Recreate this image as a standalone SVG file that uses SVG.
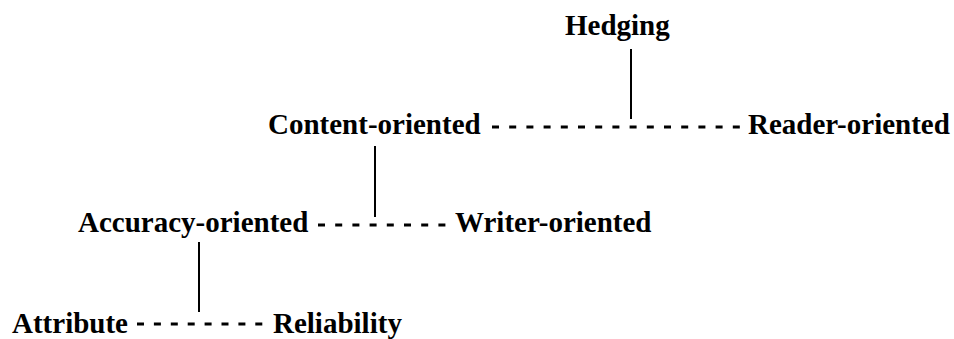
<svg xmlns="http://www.w3.org/2000/svg" width="954" height="339" viewBox="0 0 954 339">
<style>
  text { font-family: 'Liberation Serif', 'Times New Roman', Times, serif; font-weight: 700; font-size: 29px; fill: #000; }
  .solid { stroke: #000; stroke-width: 2; fill: none; }
  .dash { stroke: #000; stroke-width: 3; fill: none; stroke-dasharray: 7 10.2; }
</style>
<rect width="954" height="339" fill="#fff"/>
<g id="connectors">
  <line class="solid" x1="631" y1="49" x2="631" y2="119"/>
  <line class="dash" x1="492" y1="127" x2="741" y2="127"/>
  <line class="solid" x1="375" y1="146" x2="375" y2="217"/>
  <line class="dash" x1="318" y1="225" x2="447" y2="225"/>
  <line class="solid" x1="199" y1="242" x2="199" y2="312"/>
  <line class="dash" x1="137" y1="324" x2="263" y2="324" style="stroke-dasharray:7 9.9"/>
</g>
<g id="hedging"><text x="565" y="35" font-family="Liberation Serif">Hedging</text></g>
<g id="content-oriented"><text x="268" y="134" font-family="Liberation Serif">Content-oriented</text></g>
<g id="reader-oriented"><text x="748" y="134" font-family="Liberation Serif">Reader-oriented</text></g>
<g id="accuracy-oriented"><text x="78" y="232" font-family="Liberation Serif">Accuracy-oriented</text></g>
<g id="writer-oriented"><text x="455" y="232" font-family="Liberation Serif">Writer-oriented</text></g>
<g id="attribute"><text x="12" y="333" font-family="Liberation Serif">Attribute</text></g>
<g id="reliability"><text x="273" y="333" font-family="Liberation Serif">Reliability</text></g>
</svg>
